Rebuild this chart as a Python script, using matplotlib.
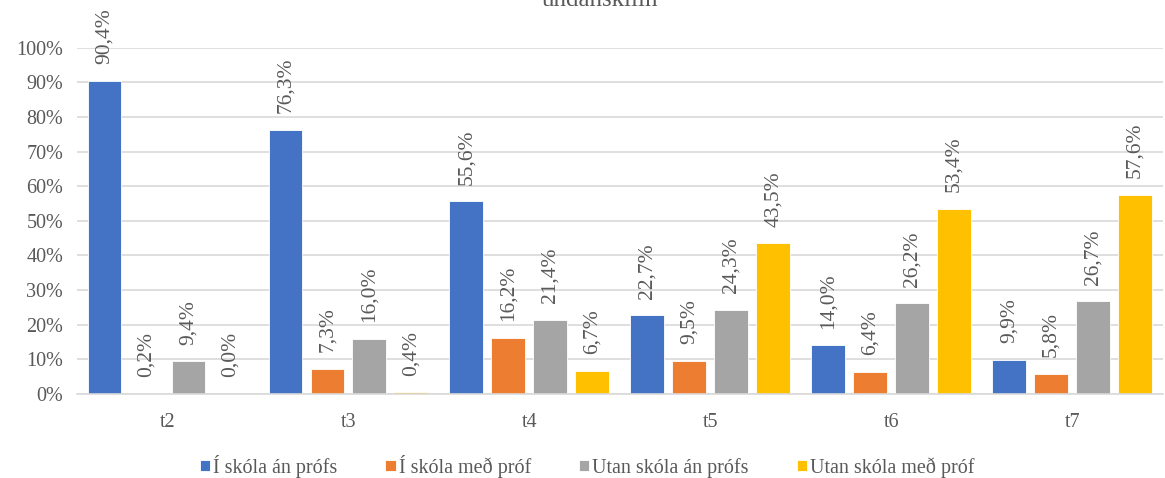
import matplotlib.pyplot as plt
import numpy as np

plt.rcParams['font.family'] = ['Liberation Serif', 'DejaVu Serif']

categories = ['t2', 't3', 't4', 't5', 't6', 't7']
series_names = ['Í skóla án prófs', 'Í skóla með próf', 'Utan skóla án prófs', 'Utan skóla með próf']
i_an = [90.4, 76.3, 55.6, 22.7, 14.0, 9.9]
i_med = [0.2, 7.3, 16.2, 9.5, 6.4, 5.8]
u_an = [9.4, 16.0, 21.4, 24.3, 26.2, 26.7]
u_med = [0.0, 0.4, 6.7, 43.5, 53.4, 57.6]
values = [i_an, i_med, u_an, u_med]
colors = ['#4472C4', '#ED7D31', '#A5A5A5', '#FFC000']

txt = '#595959'
fig = plt.figure(figsize=(11.65, 4.78), dpi=100)
ax = fig.add_axes([0.066, 0.176, 0.932, 0.724])

x = np.arange(len(categories))
slot = 0.232
width = 0.186
for i, (vals, c, name) in enumerate(zip(values, colors, series_names)):
    pos = x + (i - 1.5) * slot
    v = np.array(vals) / 100
    ax.bar(pos, v, width, color=c, label=name, edgecolor='white', linewidth=0.6, zorder=2)
    for p, val in zip(pos, vals):
        ax.annotate(f'{val:.1f}%'.replace('.', ','), (p, val / 100), xytext=(0, 12),
                    textcoords='offset points', rotation=90, ha='center', va='bottom',
                    fontsize=15.5, color=txt, annotation_clip=False)

ax.set_xlim(-0.5, len(categories) - 0.5)
ax.set_ylim(0, 1.0)
ax.set_yticks(np.arange(0, 1.01, 0.1))
ax.set_yticklabels([f'{int(t)}%' for t in np.arange(0, 101, 10)])
ax.set_xticks(x)
ax.set_xticklabels(categories)
ax.tick_params(axis='both', length=0, labelsize=14.5, colors=txt)
ax.tick_params(axis='x', pad=14)
ax.tick_params(axis='y', pad=10)
ax.grid(axis='y', color='#D9D9D9', linewidth=1.2, zorder=0)
for s in ['top', 'right', 'left']:
    ax.spines[s].set_visible(False)
ax.spines['bottom'].set_color('#D9D9D9')
ax.spines['bottom'].set_linewidth(1.2)

fig.text(0.515, 1.0, 'undanskilin', ha='center', va='center', fontsize=18, color=txt)

ax.legend(loc='lower center', bbox_to_anchor=(0.47, -0.295), ncol=4, frameon=False,
          fontsize=14.5, labelcolor=txt, handlelength=0.5, handleheight=0.5,
          handletextpad=0.15, columnspacing=2.4)

fig.savefig('out.png', dpi=100)
